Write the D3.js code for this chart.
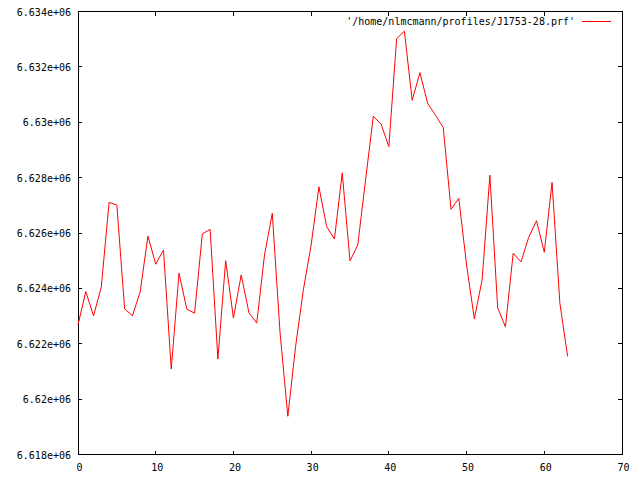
<!DOCTYPE html>
<html lang="en">
<head>
<meta charset="UTF-8">
<title>J1753-28 profile</title>
<script src="https://d3js.org/d3.v7.min.js"></script>
<style>
    body { margin: 0; background: #fff; }
    text { font-family: "DejaVu Sans Mono", monospace; font-size: 10px; fill: #000; }
</style>
</head>
<body>
<svg width="640" height="480"></svg>
<script>
// profile samples (bin index = position in the array)
const values = [
    6622685, 6623885, 6623009, 6624054, 6627106, 6627009, 6623261, 6623009,
    6623874, 6625892, 6624872, 6625387, 6621088, 6624548, 6623250, 6623106,
    6625964, 6626133, 6621449, 6625002, 6622926, 6624486, 6623117, 6622746,
    6625207, 6626710, 6622396, 6619380, 6621903, 6623946, 6625568, 6627669,
    6626227, 6625784, 6628173, 6624991, 6625568, 6627910, 6630216, 6629928,
    6629120, 6633016, 6633290, 6630793, 6631791, 6630674, 6630252, 6629809,
    6626854, 6627250, 6624847, 6622901, 6624306, 6628090, 6623297, 6622613,
    6625268, 6624955, 6625845, 6626443, 6625305, 6627827, 6623477, 6621542
];
const xTicks = [0, 10, 20, 30, 40, 50, 60, 70];
const yTicks = [6618000, 6620000, 6622000, 6624000, 6626000, 6628000, 6630000, 6632000, 6634000];
const yTickLabels = ["6.618e+06", "6.62e+06", "6.622e+06", "6.624e+06", "6.626e+06",
                     "6.628e+06", "6.63e+06", "6.632e+06", "6.634e+06"];
const legendLabel = "'/home/nlmcmann/profiles/J1753-28.prf'";

const plotL = 78, plotR = 622, plotT = 11.5, plotB = 454.5;
const tickLen = 4;

const svg = d3.select("svg");
const x = d3.scaleLinear().domain([0, 70]).range([plotL, plotR]);
const y = d3.scaleLinear().domain([6618000, 6634000]).range([plotB, plotT]);

// ticks on all four sides, pointing inward
const g = svg.append("g").attr("shape-rendering", "crispEdges").attr("stroke", "#000");
xTicks.forEach(t => {
    g.append("line").attr("x1", x(t)).attr("x2", x(t)).attr("y1", plotB).attr("y2", plotB - tickLen);
    g.append("line").attr("x1", x(t)).attr("x2", x(t)).attr("y1", plotT).attr("y2", plotT + tickLen);
});
yTicks.forEach(t => {
    g.append("line").attr("x1", plotL).attr("x2", plotL + tickLen).attr("y1", y(t)).attr("y2", y(t));
    g.append("line").attr("x1", plotR).attr("x2", plotR - tickLen).attr("y1", y(t)).attr("y2", y(t));
});
g.append("rect")
    .attr("x", plotL).attr("y", plotT)
    .attr("width", plotR - plotL).attr("height", plotB - plotT)
    .attr("fill", "none");

svg.selectAll(".xl").data(xTicks).enter().append("text")
    .attr("x", d => x(d) + 1.5).attr("y", plotB + 16)
    .attr("text-anchor", "middle")
    .text(d => d);

svg.selectAll(".yl").data(yTicks).enter().append("text")
    .attr("x", plotL - 7).attr("y", d => y(d) + 4)
    .attr("text-anchor", "end")
    .text((d, i) => yTickLabels[i]);

// legend
svg.append("text").attr("x", 575).attr("y", 25).attr("text-anchor", "end").text(legendLabel);
svg.append("line").attr("x1", 582).attr("x2", 611).attr("y1", 21.5).attr("y2", 21.5)
    .attr("stroke", "#ff0000").attr("shape-rendering", "crispEdges");

const line = d3.line().x((d, i) => x(i)).y(d => y(d));
svg.append("path").datum(values)
    .attr("d", line)
    .attr("fill", "none")
    .attr("stroke", "#ff0000")
    .attr("stroke-width", 1);
</script>
</body>
</html>
